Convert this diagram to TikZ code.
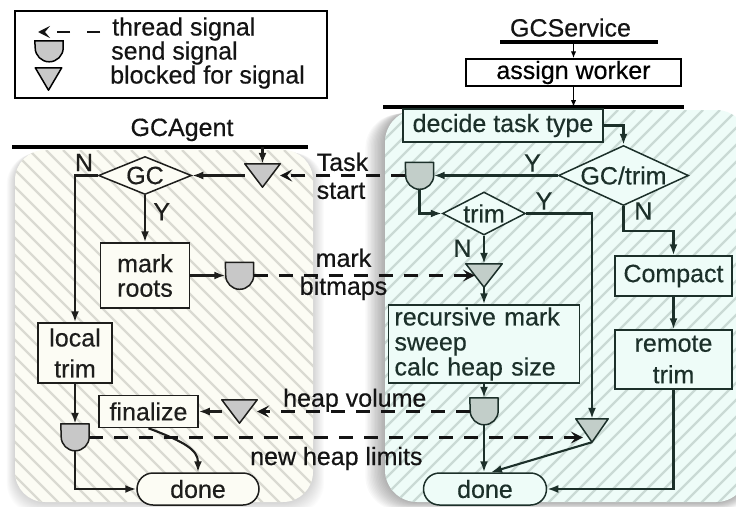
\documentclass[tikz,border=0pt]{standalone}
\usepackage{fontspec}
\setmainfont{Liberation Sans}[RawFeature={embolden=0.4}]
\usetikzlibrary{arrows.meta,shapes.geometric,calc}

\definecolor{inkL}{HTML}{1E1E1C}
\definecolor{inkR}{HTML}{1C302A}
\definecolor{panelL}{HTML}{FCFCF4}
\definecolor{hatchL}{HTML}{DADAD2}
\definecolor{panelR}{HTML}{EEFCF8}
\definecolor{hatchR}{HTML}{CADAD5}
\definecolor{sigL}{HTML}{C8C8C8}
\definecolor{sigR}{HTML}{C2CEC9}

% "send signal" bullet: flat top, straight sides, round bottom
\newcommand\sendD[3]{\draw[#3] (#1.north west) -- (#1.north east) -- ++(0,#2)
  arc[start angle=0, end angle=180, radius=14] -- cycle;}
% "blocked for signal" triangle
\newcommand\blockV[2]{\draw[#2] (#1.north west) -- (#1.north east) -- (#1.south) -- cycle;}

\begin{document}
\begin{tikzpicture}[x=1pt, y=-1pt,
  font=\fontsize{25}{28}\selectfont,
  every node/.style={inner sep=0pt},
  boxW/.style={draw=black, fill=white, line width=1.5pt, align=center},
  boxL/.style={draw=inkL, fill=panelL, line width=1.5pt, text=inkL, align=center},
  boxR/.style={draw=inkR, fill=panelR, line width=1.5pt, text=inkR, align=center},
  decL/.style={diamond, draw=inkL, fill=panelL, line width=1.5pt, text=inkL},
  decR/.style={diamond, draw=inkR, fill=panelR, line width=1.5pt, text=inkR},
  sigbox/.style={minimum width=28pt, minimum height=27pt},
  sigL/.style={draw=inkL, fill=sigL, line width=1.5pt, line join=round},
  sigR/.style={draw=inkR, fill=sigR, line width=1.5pt, line join=round},
  bar/.style={draw=black, line width=3.5pt},
  arrL/.style={draw=inkL, line width=2.1pt, -{Latex[length=11pt,width=8pt]}},
  arrR/.style={draw=inkR, line width=2.1pt, -{Latex[length=11pt,width=8pt]}},
  arrS/.style={draw=black, line width=1.4pt, -{Latex[length=7pt,width=5.5pt]}},
  dashA/.style={draw=black!92, line width=2.1pt, dash pattern=on 14pt off 11pt,
    -{Stealth[length=12pt,width=12pt,inset=5pt]}},
  lbl/.style={text=black!92},
  lblL/.style={text=inkL},
  lblR/.style={text=inkR},
]
\useasboundingbox (0,0) rectangle (736,506);
\fill[white] (0,0) rectangle (736,506);

% soft shadows under both swim lanes
\foreach \k in {1,...,14} {
  \fill[black, opacity=0.022, rounded corners=34pt]
    (385-1.4*\k, 110+0.3*\k) rectangle (748+0.5*\k, 502+0.6*\k);
  \fill[black, opacity=0.012, rounded corners=32pt]
    (15-0.6*\k, 150+0.2*\k) rectangle (313+0.8*\k, 502+0.9*\k);
}

% GCAgent lane
\fill[panelL, rounded corners=30pt] (15,150) rectangle (313,502);
\begin{scope}
  \clip[rounded corners=30pt] (15,150) rectangle (313,502);
  \foreach \i in {-345,-328,...,320}
    \draw[hatchL, line width=2.2pt] (\i,150) -- ++(360,360);
\end{scope}

% GCService lane
\fill[panelR, rounded corners=32pt] (385,110) rectangle (748,502);
\begin{scope}
  \clip[rounded corners=32pt] (385,110) rectangle (748,502);
  \foreach \i in {-20,-3,...,770}
    \draw[hatchR, line width=2.2pt] (\i,510) -- ++(400,-400);
\end{scope}

% legend
\node[draw=black, line width=1.9pt, minimum width=312pt, minimum height=87pt] (legend) at (171,54.5) {};
\coordinate (lgA) at (100,32);
\coordinate (lgB) at (38,32);
\draw[dashA, dash pattern=on 13pt off 17pt] (lgA) -- (lgB);
\node[sigbox, minimum height=21pt] (lgsend) at (49,51.5) {};
\sendD{lgsend}{7}{draw=black, fill=sigL, line width=1.5pt}
\node[minimum width=26pt, minimum height=22pt] (lgblock) at (48.5,79) {};
\blockV{lgblock}{draw=black, fill=sigL, line width=1.5pt, line join=round}
\node[lbl, anchor=base west] (lgt1) at (112,35.5) {thread signal};
\node[lbl, anchor=base west] (lgt2) at (111,59.5) {send signal};
\node[lbl, anchor=base west] (lgt3) at (110,83.5) {blocked for signal};

% titles and lane bars
\node[lbl, anchor=base] (svc) at (570.5,36.5) {GCService};
\coordinate (svcbarL) at (500,42);
\coordinate (svcbarR) at (658,42);
\draw[bar] (svcbarL) -- (svcbarR);
\coordinate (svcin) at (573.5,42);
\node[boxW, minimum width=215pt, minimum height=27pt] (assign) at (573.5,72.5) {assign worker};
\coordinate (laneRL) at (383,107);
\coordinate (laneRR) at (684,107);
\coordinate (lanein) at (573.5,107);
\draw[bar] (laneRL) -- (laneRR);
\draw[arrS] (svcin) -- (assign.north);
\draw[arrS] (assign.south) -- (lanein);

\node[lbl, anchor=base] (agent) at (182,136) {GCAgent};
\coordinate (laneLL) at (12,147);
\coordinate (laneLR) at (308,147);
\coordinate (agin) at (262.5,147);
\draw[bar] (laneLL) -- (laneLR);

% GCService steps
\node[boxR, minimum width=200pt, minimum height=33pt] (decide) at (503,125.5) {decide task type};
\node[decR, minimum width=130pt, minimum height=60pt] (gctrim) at (623.5,175.5) {\makebox[0pt]{GC/trim}};
\node[decR, minimum width=83pt, minimum height=43pt] (trim) at (484,213.5) {\makebox[0pt]{trim}};
\node[boxR, minimum width=117pt, minimum height=40pt] (compact) at (673.5,276) {Compact};
\node[boxR, minimum width=117pt, minimum height=59pt, font=\fontsize{25}{31.5}\selectfont] (remote) at (673.5,359.5) {remote\\trim};
\node[boxR, align=left, text width=179pt, inner xsep=6pt, minimum height=78pt,
  font=\fontsize{25}{25}\selectfont] (recursive) at (484,344) {recursive mark\\sweep\\calc heap size};
\node[boxR, rounded corners=16pt, minimum width=123pt, minimum height=32pt] (doneR) at (485,489) {done};

\node[sigbox] (sendT) at (419.5,176) {};
\node[sigbox] (sendH) at (484,411.5) {};
\node[minimum width=36pt, minimum height=23pt] (blockM) at (484,275.5) {};
\node[minimum width=32pt, minimum height=23pt] (blockN) at (592,430.5) {};

% GCAgent steps
\node[decL, minimum width=93pt, minimum height=38pt] (gc) at (145,175.5) {\makebox[0pt]{GC}};
\node[boxL, minimum width=89pt, minimum height=65pt, font=\fontsize{25}{24.5}\selectfont] (markroots) at (145,275.5) {mark\\roots};
\node[boxL, minimum width=74pt, minimum height=60pt, font=\fontsize{25}{31}\selectfont] (localtrim) at (75,353) {local\\trim};
\node[boxL, minimum width=99pt, minimum height=32pt] (finalize) at (148.5,411.5) {finalize};
\node[boxL, rounded corners=16pt, minimum width=122pt, minimum height=32pt] (doneL) at (198,489) {done};

\node[sigbox] (sendM) at (239.5,276) {};
\node[sigbox] (sendN) at (75,437.5) {};
\node[minimum width=35pt, minimum height=23pt] (blockT) at (262.5,175.5) {};
\node[minimum width=35pt, minimum height=23pt] (blockH) at (239.5,411.5) {};

% branch labels
\node[lblL] (nGC) at (84,162.5) {N};
\node[lblL] (yGC) at (161.7,211.7) {Y};
\node[lblR] (yGT) at (532.5,163) {Y};
\node[lblR] (nGT) at (643.3,211) {N};
\node[lblR] (yTR) at (544,201) {Y};
\node[lblR] (nTR) at (462.5,248.3) {N};

% signal labels
\node[lbl, anchor=north west, align=left] (lbltask) at (316.5,152.5) {Task\\start};
\node[lbl, anchor=north, align=center] (lblmark) at (343.5,248.5) {mark\\bitmaps};
\node[lbl, anchor=base west] (lblheap) at (283,406.7) {heap volume};
\node[lbl, anchor=base west] (lbllimits) at (250,465) {new heap limits};

% signal shapes
\sendD{sendT}{13}{sigR}
\sendD{sendH}{13}{sigR}
\sendD{sendM}{13}{sigL}
\sendD{sendN}{13}{sigL}
\blockV{blockT}{sigL}
\blockV{blockH}{sigL}
\blockV{blockM}{sigR}
\blockV{blockN}{sigR}

\coordinate (mhit) at ($(blockM.north west)!0.5!(blockM.south)$);
\coordinate (nhit) at ($(sendN.east -| blockN.west)+(7,0)$);

% GCService flow
\draw[arrR] (decide.east) -| (gctrim.north);
\draw[arrR] (gctrim.west) -- (gctrim.west -| sendT.east);
\draw[arrR] (sendT.south) |- (trim.west);
\draw[arrR] (trim.east) -| (blockN.north);
\draw[arrR] (gctrim.south) -- ++(0,25) -| (compact.north);
\draw[arrR] (compact.south) -- (remote.north);
\draw[arrR] (remote.south) |- (doneR.east);
\draw[arrR] (trim.south) -- (blockM.north);
\draw[arrR] (blockM.south) -- (recursive.north);
\draw[arrR] (recursive.south) -- (sendH.north);
\draw[arrR] (sendH.south) -- (sendH.south |- doneR.north);
\draw[arrR] (blockN.south) -- ($(doneR.north)+(6,0)$);

% GCAgent flow
\draw[arrL] (agin) -- (blockT.north);
\draw[arrL] (blockT.west) -- (gc.east);
\draw[arrL] (gc.south) -- (markroots.north);
\draw[arrL] (gc.west) -| (localtrim.north);
\draw[arrL] (markroots.east) -- (markroots.east -| sendM.west);
\draw[arrL] (localtrim.south) -- (sendN.north);
\draw[arrL] (blockH.west) -- (finalize.east);
\draw[arrL] (sendN.south) |- (doneL.west);
\draw[arrL] (finalize.south) .. controls (185,442) and (198,450) .. (doneL.north);

% thread signals between the lanes
\draw[dashA] (sendT.west |- blockT.east) -- (blockT.east);
\draw[dashA] (sendM.east |- mhit) -- (mhit);
\draw[dashA] (sendH.west) -- (blockH.east);
\draw[dashA] (sendN.east) -- (nhit);
\end{tikzpicture}
\end{document}
